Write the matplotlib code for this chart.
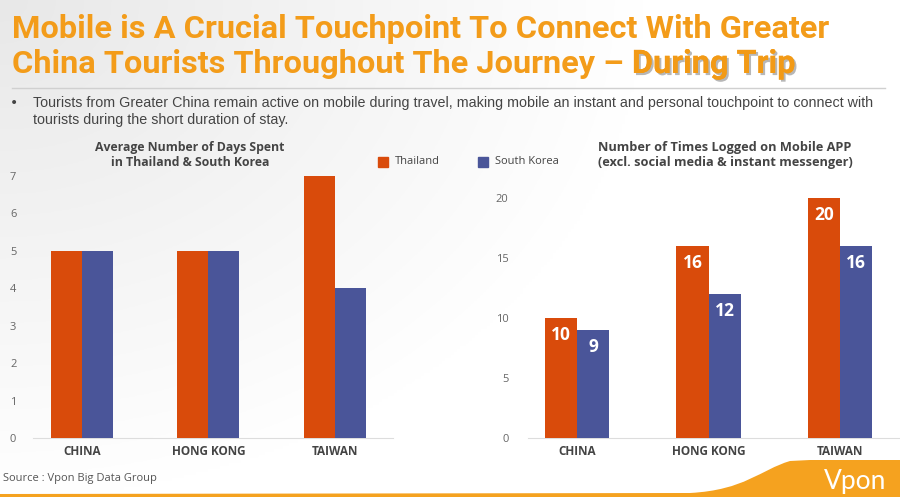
import numpy as np
import matplotlib
matplotlib.use("Agg")
import matplotlib.pyplot as plt
from matplotlib.patches import Rectangle, PathPatch
from matplotlib.path import Path
import matplotlib.patheffects as pe

# ---- data ----
categories = ["CHINA", "HONG KONG", "TAIWAN"]
series_names = ["Thailand", "South Korea"]
days_thailand = [5, 5, 7]
days_korea = [5, 5, 4]
logins_thailand = [10, 16, 20]
logins_korea = [9, 12, 16]
days_ticks = [0, 1, 2, 3, 4, 5, 6, 7]
login_ticks = [0, 5, 10, 15, 20]

ORANGE = "#D94B0B"
BLUE = "#4A5599"
TITLE_C = "#F39C1A"
W, H = 900, 497

fig = plt.figure(figsize=(9, 4.97), dpi=100)
renderer = fig.canvas.get_renderer()

def fx(x):
    return x / W
def fy(y):
    return 1 - y / H

def fit_text(x, y, s, target_w, **kw):
    t = fig.text(fx(x), fy(y), s, **kw)
    w = t.get_window_extent(renderer=renderer).width
    t.set_fontsize(t.get_fontsize() * target_w / w)
    return t

# background gradient
bg = fig.add_axes([0, 0, 1, 1], zorder=-10)
xx, yy = np.meshgrid(np.linspace(0, 1, 300), np.linspace(0, 1, 170))
g = 0.91 + 0.09 * np.clip(np.sqrt((xx * 1.4) ** 2 + (yy * 1.0) ** 2), 0, 1)
bg.imshow(np.dstack([g, g, g]), extent=[0, 1, 0, 1], aspect="auto", origin="upper")
bg.set_xlim(0, 1); bg.set_ylim(0, 1)
bg.axis("off")

tfont = ["Roboto", "DejaVu Sans"]
# title
t1 = fit_text(12, 38, "Mobile is A Crucial Touchpoint To Connect With Greater", 816,
              fontsize=22, fontweight="bold", family=tfont, color=TITLE_C, va="baseline", ha="left")
fs = t1.get_fontsize()
t2 = fig.text(fx(12), fy(73), "China Tourists Throughout The Journey \u2013 ",
              fontsize=fs, fontweight="bold", family=tfont, color=TITLE_C, va="baseline", ha="left")
bb = t2.get_window_extent(renderer=renderer)
fig.text(bb.x1 / W, fy(73), "During Trip", fontsize=fs, fontweight="bold", family=tfont,
         color="#F29A16", va="baseline", ha="left",
         path_effects=[pe.withSimplePatchShadow(offset=(1.5, -1.5), shadow_rgbFace="#888888", alpha=0.6), pe.Normal()])

fig.add_artist(plt.Line2D([fx(12), fx(885)], [fy(88), fy(88)], color="#D0D0D0", lw=1))

bfont = ["Liberation Sans", "DejaVu Sans"]
fig.text(fx(10), fy(103), "\u2022", fontsize=10, color="#444444", va="center", ha="left")
tb = fit_text(33, 103, "Tourists from Greater China remain active on mobile during travel, making mobile an instant and personal touchpoint to connect with",
              835, fontsize=10, family=bfont, color="#444444", va="center", ha="left")
fig.text(fx(33), fy(120), "tourists during the short duration of stay.",
         fontsize=tb.get_fontsize(), family=bfont, color="#444444", va="center", ha="left")

sans = ["Open Sans", "DejaVu Sans"]

def draw_chart(rect, xl, yl, th, sk, ticks, labels_inside, ypad):
    ax = fig.add_axes(rect)
    ax.set_facecolor("none")
    x = np.arange(len(categories))
    w = 0.245
    ax.bar(x - w / 2, th, width=w, color=ORANGE, zorder=3)
    ax.bar(x + w / 2, sk, width=w, color=BLUE, zorder=3)
    if labels_inside:
        for xs, vals in [(x - w / 2, th), (x + w / 2, sk)]:
            for xi, v in zip(xs, vals):
                ax.annotate(str(v), (xi, v), xytext=(0, -17), textcoords="offset pixels",
                            ha="center", va="center", color="white", fontsize=12.5,
                            fontweight="bold", family=sans, zorder=4)
    ax.set_xlim(*xl)
    ax.set_ylim(*yl)
    ax.set_yticks(ticks)
    ax.set_yticklabels([str(t) for t in ticks], family=sans, fontsize=8, color="#666666")
    ax.set_xticks(x)
    ax.set_xticklabels(categories, family=sans, fontsize=8.5, fontweight="bold", color="#444444")
    ax.tick_params(axis="both", length=0)
    ax.tick_params(axis="y", pad=ypad)
    ax.tick_params(axis="x", pad=5)
    for s in ["top", "right", "left"]:
        ax.spines[s].set_visible(False)
    ax.spines["bottom"].set_color("#DDDDDD")
    return ax

draw_chart([fx(33), fy(438), (393 - 33) / W, (438 - 176) / H], (-0.387, 2.459), (0, 7),
           days_thailand, days_korea, days_ticks, False, 12)
draw_chart([fx(528), fy(438), (900 - 528) / W, (438 - 198) / H], (-0.373, 2.456), (0, 20),
           logins_thailand, logins_korea, login_ticks, True, 14)

# chart titles
fig.text(fx(190), fy(155), "Average Number of Days Spent\nin Thailand & South Korea",
         fontsize=8.8, fontweight="bold", family=sans, color="#444444", ha="center", va="center", linespacing=1.2)
fig.text(fx(725), fy(155), "Number of Times Logged on Mobile APP\n(excl. social media & instant messenger)",
         fontsize=9.2, fontweight="bold", family=sans, color="#444444", ha="center", va="center", linespacing=1.2)

# legend
for (x0, name, col) in [(378, series_names[0], ORANGE), (478, series_names[1], BLUE)]:
    fig.add_artist(Rectangle((fx(x0), fy(167)), 10 / W, 10 / H, color=col, transform=fig.transFigure))
    fig.text(fx(x0 + 17), fy(162), name, fontsize=8, family=sans, color="#444444", va="center", ha="left")

# source
fig.text(fx(3), fy(478), "Source : Vpon Big Data Group", fontsize=8, family=sans, color="#555555", va="center", ha="left")

# bottom swoosh
SW = "#F5A21F"
verts = [(0, 497), (0, 494), (690, 493), (745, 490), (760, 470), (790, 461), (810, 460), (900, 460), (900, 497), (0, 497)]
codes = [Path.MOVETO, Path.LINETO, Path.LINETO, Path.CURVE4, Path.CURVE4, Path.CURVE4, Path.LINETO, Path.LINETO, Path.LINETO, Path.CLOSEPOLY]
p = Path([(fx(a), fy(b)) for a, b in verts], codes)
fig.add_artist(PathPatch(p, facecolor=SW, edgecolor="none", transform=fig.transFigure))
fig.text(fx(855), fy(481), "Vpon", fontsize=19, family=["Lato", "DejaVu Sans"], color="white", ha="center", va="center")

fig.savefig("out.png", dpi=100)
